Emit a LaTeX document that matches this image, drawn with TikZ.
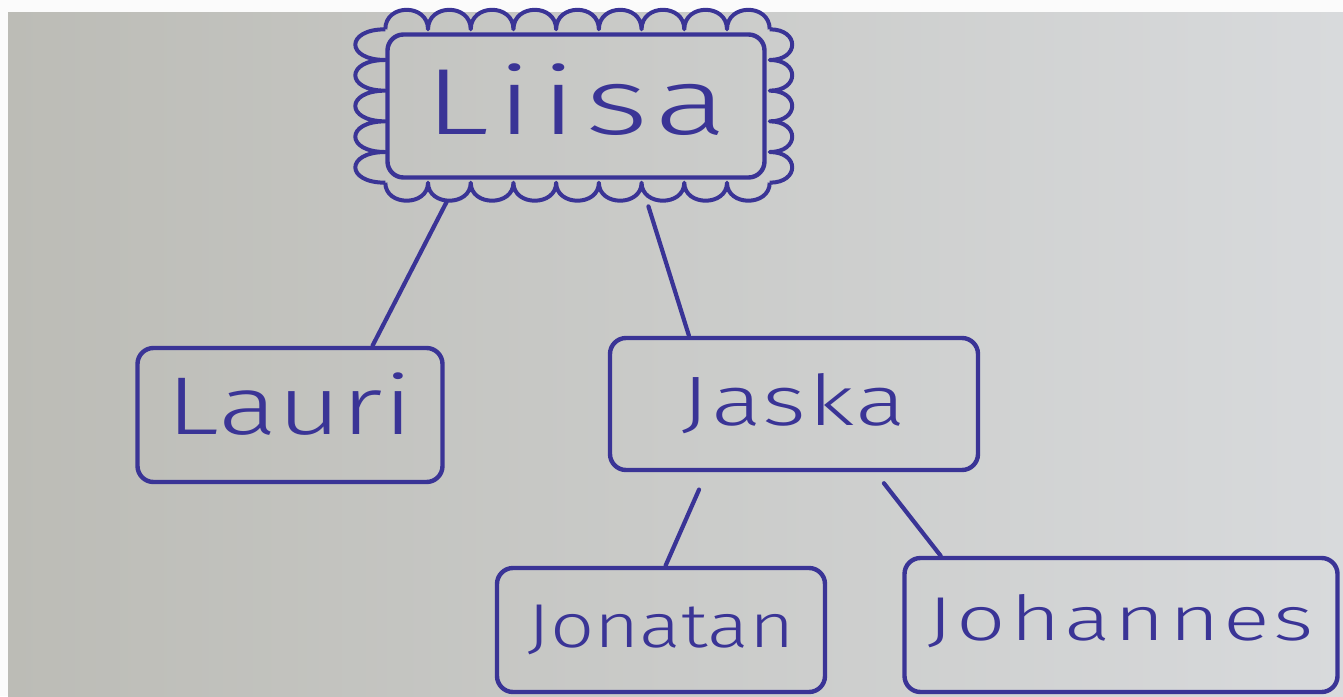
\documentclass[tikz,border=0pt]{standalone}
\usepackage{fontspec}
\newfontfamily\handfont{Fira Sans}[UprightFont=* Light, FakeStretch=1.25]
\usepackage{xcolor}
\usetikzlibrary{positioning,calc}
\definecolor{ink}{RGB}{58,52,150}
\definecolor{paperleft}{RGB}{188,188,182}
\definecolor{paperright}{RGB}{216,218,220}
\tikzset{
  person/.style={draw=ink, text=ink, line width=4.4pt, rounded corners=16pt, inner sep=0pt},
  branch/.style={draw=ink, line width=4.2pt, line cap=round},
  scallop/.style={draw=ink, line width=4pt, line join=round},
}
\begin{document}
\begin{tikzpicture}[x = 1pt, y = -1pt]
    \useasboundingbox (0,0) rectangle (1343,696);
    \fill[white!94!paperleft] (0,0) rectangle (1343,696);
    \shade[left color = paperleft, right color = paperright] (8,12) rectangle (1343,696);
    % the tree
    \node[person, minimum width = 377pt, minimum height = 143pt, text depth = 14pt, font = \handfont\fontsize{94}{94}\selectfont\addfontfeatures{FakeStretch=1.45, LetterSpace=8}] (liisa) at (576,106) {Liisa};
    \node[person, minimum width = 305pt, minimum height = 134pt, text depth = 22pt, font = \handfont\fontsize{82}{82}\selectfont\addfontfeatures{FakeStretch=1.35}] (lauri) at (290,415) {Lauri};
    \node[person, minimum width = 368pt, minimum height = 132pt, font = \handfont\fontsize{70}{70}\selectfont\addfontfeatures{FakeStretch=1.35, LetterSpace=3}] (jaska) at (794,404) {Jaska};
    \node[person, minimum width = 328pt, minimum height = 124pt, font = \handfont\fontsize{62}{62}\selectfont] (jonatan) at (661,630) {Jonatan};
    \node[person, minimum width = 433pt, minimum height = 134pt, text depth = 16pt, font = \handfont\fontsize{62}{62}\selectfont\addfontfeatures{FakeStretch=1.4, LetterSpace=6}] (johannes) at (1121,625) {Johannes};
    % scallops round the root
    \coordinate (nw) at ($(liisa.north west)+(0,-3)$);
    \coordinate (ne) at ($(liisa.north east)+(3,-3)$);
    \coordinate (se) at ($(liisa.south east)+(3,3)$);
    \coordinate (sw) at ($(liisa.south west)+(0,3)$);
    \draw[scallop] (nw) \foreach \i in {1,...,9} { .. controls +(0,-26) and +(0,-26) .. ($(nw)!{\i/9}!(ne)$) };
    \draw[scallop] (ne) \foreach \i in {1,...,5} { .. controls +(30,0) and +(30,0) .. ($(ne)!{\i/5}!(se)$) };
    \draw[scallop] (se) \foreach \i in {1,...,9} { .. controls +(0,24) and +(0,24) .. ($(se)!{\i/9}!(sw)$) };
    \draw[scallop] (sw) \foreach \i in {1,...,5} { .. controls +(-40,0) and +(-40,0) .. ($(sw)!{\i/5}!(nw)$) };
    % branches
    \draw[branch, shorten <= 25pt] (liisa.212.5) -- (lauri.40);
    \draw[branch, shorten <= 28pt] (liisa.-49.3) -- (jaska.147);
    \draw[branch, shorten <= 19pt] (jaska.218.5) -- (jonatan.86);
    \draw[branch, shorten <= 14pt] (jaska.-40.2) -- (johannes.159.7);
\end{tikzpicture}
\end{document}
